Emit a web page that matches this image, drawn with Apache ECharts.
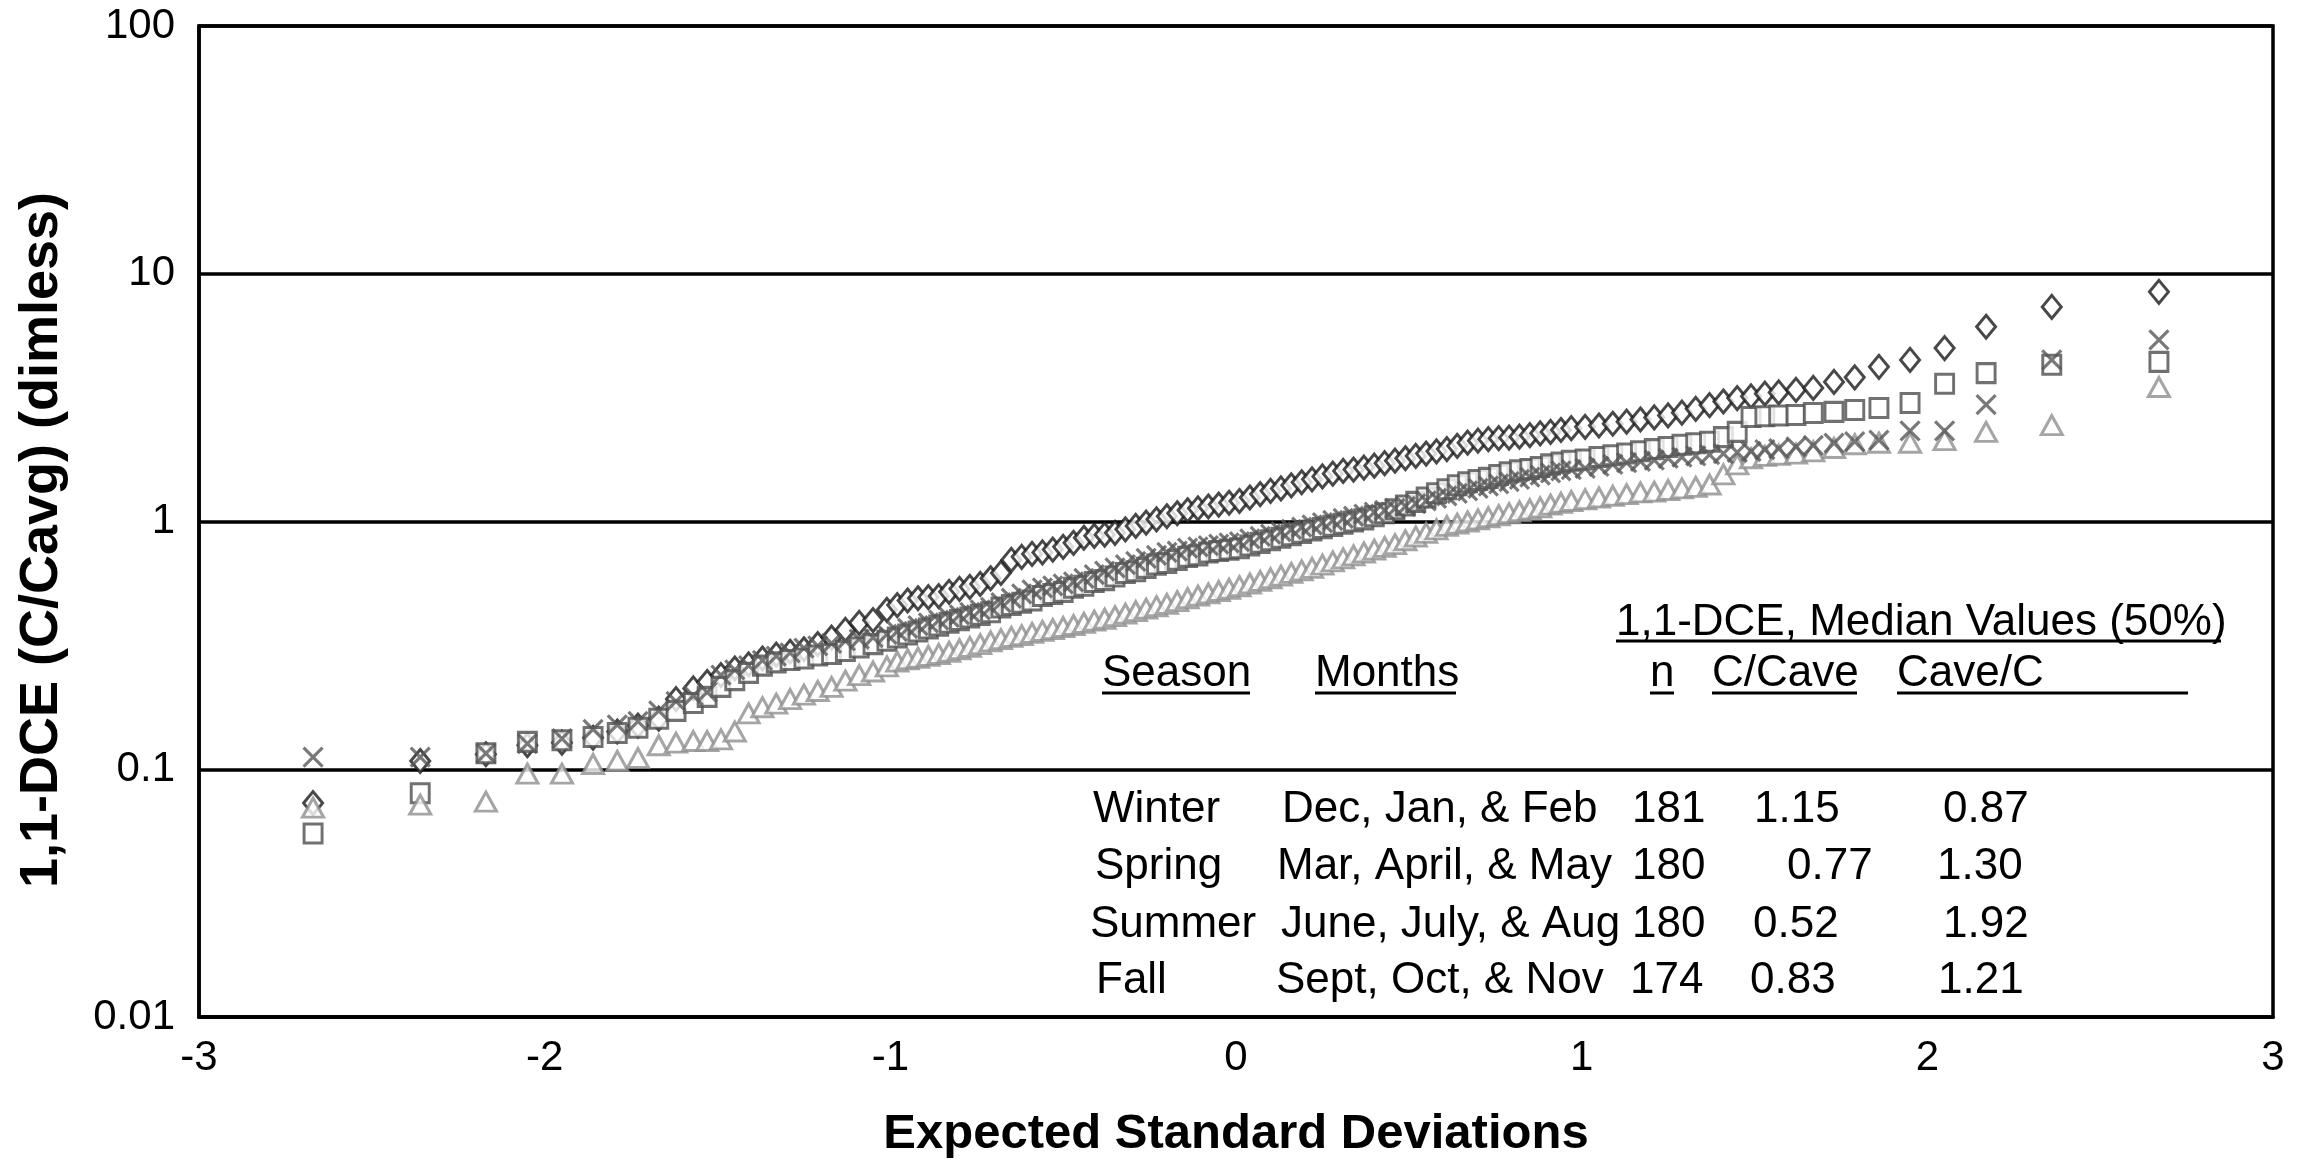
<!DOCTYPE html>
<html>
<head>
<meta charset="utf-8">
<script src="https://cdn.jsdelivr.net/npm/echarts@6/dist/echarts.min.js"></script>
<style>
html, body { margin: 0; padding: 0; background: #fff; }
#chart { width: 2310px; height: 1163px; }
</style>
</head>
<body>
<div id="chart"></div>
<script>
// Expected standard deviation (normal score) of each ranked sample
const zPositions = [
  -2.67, -2.36, -2.17, -2.05, -1.95, -1.86, -1.79, -1.73, -1.67, -1.62,
  -1.57, -1.53, -1.49, -1.45, -1.41, -1.37, -1.33, -1.29, -1.25, -1.21,
  -1.17, -1.13, -1.09, -1.05, -1.01, -0.98, -0.95, -0.92, -0.89, -0.86,
  -0.83, -0.80, -0.77, -0.74, -0.71, -0.68, -0.65, -0.62, -0.59, -0.56,
  -0.53, -0.50, -0.47, -0.44, -0.41, -0.38, -0.35, -0.32, -0.29, -0.26,
  -0.23, -0.20, -0.17, -0.14, -0.11, -0.08, -0.05, -0.02, 0.01, 0.04,
  0.07, 0.10, 0.13, 0.16, 0.19, 0.22, 0.25, 0.28, 0.31, 0.34,
  0.37, 0.40, 0.43, 0.46, 0.49, 0.52, 0.55, 0.58, 0.61, 0.64,
  0.67, 0.70, 0.73, 0.76, 0.79, 0.82, 0.85, 0.88, 0.91, 0.94,
  0.97, 1.01, 1.05, 1.09, 1.13, 1.17, 1.21, 1.25, 1.29, 1.33,
  1.37, 1.41, 1.45, 1.49, 1.53, 1.57, 1.62, 1.67, 1.73, 1.79,
  1.86, 1.95, 2.05, 2.17, 2.36, 2.67
];

// 1,1-DCE concentration relative to the average, one value per rank
const winterRatio = [
  0.073, 0.108, 0.115, 0.125, 0.128, 0.134, 0.142, 0.150, 0.160, 0.192,
  0.212, 0.225, 0.240, 0.255, 0.265, 0.280, 0.290, 0.298, 0.305, 0.320,
  0.340, 0.365, 0.390, 0.400, 0.440, 0.460, 0.480, 0.490, 0.495, 0.500,
  0.520, 0.535, 0.545, 0.560, 0.590, 0.620, 0.700, 0.720, 0.740, 0.750,
  0.770, 0.790, 0.820, 0.860, 0.875, 0.885, 0.900, 0.930, 0.960, 0.990,
  1.02, 1.05, 1.08, 1.11, 1.13, 1.15, 1.17, 1.19, 1.21, 1.25,
  1.29, 1.33, 1.36, 1.40, 1.44, 1.48, 1.52, 1.56, 1.60, 1.62,
  1.65, 1.68, 1.72, 1.76, 1.80, 1.84, 1.88, 1.92, 1.96, 2.02,
  2.08, 2.12, 2.15, 2.17, 2.18, 2.20, 2.23, 2.27, 2.30, 2.34,
  2.38, 2.41, 2.44, 2.48, 2.53, 2.58, 2.63, 2.68, 2.75, 2.85,
  2.95, 3.05, 3.15, 3.20, 3.28, 3.32, 3.40, 3.46, 3.66, 3.82,
  4.21, 4.49, 5.01, 6.11, 7.35, 8.45
];
const springRatio = [
  0.055, 0.080, 0.116, 0.129, 0.131, 0.135, 0.140, 0.147, 0.160, 0.172,
  0.185, 0.196, 0.215, 0.229, 0.245, 0.262, 0.270, 0.276, 0.280, 0.288,
  0.292, 0.300, 0.310, 0.320, 0.330, 0.34, 0.35, 0.36, 0.37, 0.38,
  0.39, 0.40, 0.41, 0.42, 0.43, 0.45, 0.46, 0.47, 0.48, 0.50,
  0.51, 0.52, 0.54, 0.55, 0.57, 0.58, 0.60, 0.62, 0.63, 0.65,
  0.67, 0.68, 0.70, 0.72, 0.73, 0.75, 0.76, 0.77, 0.78, 0.80,
  0.82, 0.84, 0.86, 0.88, 0.90, 0.92, 0.94, 0.96, 0.98, 1.00,
  1.02, 1.05, 1.08, 1.12, 1.16, 1.20, 1.25, 1.30, 1.35, 1.40,
  1.44, 1.47, 1.50, 1.54, 1.58, 1.61, 1.63, 1.66, 1.70, 1.73,
  1.76, 1.78, 1.82, 1.85, 1.88, 1.92, 1.96, 2.00, 2.04, 2.07,
  2.10, 2.19, 2.30, 2.64, 2.66, 2.68, 2.69, 2.74, 2.77, 2.82,
  2.87, 3.01, 3.60, 3.97, 4.29, 4.41
];
const summerRatio = [
  0.070, 0.072, 0.074, 0.096, 0.096, 0.105, 0.108, 0.111, 0.125, 0.128,
  0.130, 0.130, 0.132, 0.142, 0.168, 0.178, 0.184, 0.192, 0.200, 0.207,
  0.215, 0.228, 0.240, 0.248, 0.260, 0.272, 0.278, 0.282, 0.287, 0.292,
  0.298, 0.305, 0.312, 0.320, 0.328, 0.335, 0.342, 0.348, 0.355, 0.362,
  0.368, 0.375, 0.382, 0.390, 0.398, 0.405, 0.415, 0.425, 0.435, 0.445,
  0.455, 0.465, 0.477, 0.490, 0.502, 0.513, 0.524, 0.535, 0.548, 0.562,
  0.576, 0.590, 0.605, 0.620, 0.635, 0.650, 0.67, 0.69, 0.71, 0.73,
  0.75, 0.77, 0.79, 0.81, 0.84, 0.87, 0.90, 0.93, 0.96, 0.98,
  1.00, 1.02, 1.04, 1.06, 1.08, 1.10, 1.12, 1.14, 1.17, 1.19,
  1.21, 1.23, 1.25, 1.27, 1.29, 1.31, 1.32, 1.34, 1.36, 1.38,
  1.41, 1.55, 1.70, 1.80, 1.84, 1.86, 1.88, 1.92, 1.98, 2.05,
  2.08, 2.08, 2.13, 2.30, 2.45, 3.49
];
const fallRatio = [
  0.112, 0.112, 0.116, 0.127, 0.133, 0.145, 0.151, 0.156, 0.172, 0.188,
  0.198, 0.205, 0.240, 0.252, 0.262, 0.275, 0.286, 0.295, 0.308, 0.315,
  0.322, 0.330, 0.335, 0.340, 0.350, 0.36, 0.37, 0.38, 0.39, 0.40,
  0.41, 0.42, 0.43, 0.44, 0.45, 0.47, 0.49, 0.51, 0.53, 0.54,
  0.55, 0.56, 0.57, 0.59, 0.61, 0.63, 0.65, 0.67, 0.69, 0.71,
  0.73, 0.75, 0.76, 0.78, 0.79, 0.80, 0.81, 0.82, 0.83, 0.85,
  0.87, 0.89, 0.91, 0.93, 0.95, 0.97, 0.99, 1.01, 1.03, 1.05,
  1.07, 1.09, 1.11, 1.13, 1.15, 1.18, 1.21, 1.24, 1.27, 1.30,
  1.33, 1.36, 1.39, 1.42, 1.45, 1.48, 1.51, 1.54, 1.57, 1.60,
  1.62, 1.64, 1.67, 1.70, 1.73, 1.75, 1.77, 1.80, 1.82, 1.84,
  1.86, 1.88, 1.90, 1.92, 1.95, 1.97, 2.00, 2.03, 2.07, 2.10,
  2.13, 2.32, 2.32, 2.96, 4.49, 5.41
];

// Tick labels
const xTickLabels = ['-3', '-2', '-1', '0', '1', '2', '3'];
const yTickLabels = ['0.01', '0.1', '1', '10', '100'];

// Axis titles
const xTitle = 'Expected Standard Deviations';
const yTitle = '1,1-DCE (C/Cavg) (dimless)';

// Median summary table
const tableTitle = '1,1-DCE, Median Values (50%)';
const tableHeaders = ['Season', 'Months', 'n', 'C/Cave', 'Cave/C'];
const seasonNames = ['Winter', 'Spring', 'Summer', 'Fall'];
const monthRanges = ['Dec, Jan, & Feb', 'Mar, April, & May', 'June, July, & Aug', 'Sept, Oct, & Nov'];
const sampleCounts = ['181', '180', '180', '174'];
const medianRatio = ['1.15', '0.77', '0.52', '0.83'];
const inverseRatio = ['0.87', '1.30', '1.92', '1.21'];

const FONT = '"Liberation Sans", Arial, Helvetica, sans-serif';

function pairs(values) {
  return zPositions.map((z, i) => [z, values[i]]);
}

function hollow(color, width) {
  return { color: '#ffffff', borderColor: color, borderWidth: width };
}

const chart = echarts.init(document.getElementById('chart'), null, { renderer: 'canvas' });

// Table layout
const rowY = [810, 867, 925, 981];
const colSeasonX = [1093, 1095, 1090, 1096];
const colMonthX = [1282, 1277, 1281, 1276];
const colNX = [1632, 1632, 1632, 1630];
const colRatioX = [1754, 1787, 1753, 1750];
const colInverseX = [1943, 1937, 1943, 1938];
const headerX = [1102, 1315, 1650, 1712, 1897];
const headerY = 674;

function txt(s, x, y) {
  return {
    type: 'text', x: x, y: y, silent: true,
    style: {
      text: s, fill: '#000', fontFamily: FONT, fontSize: 44,
      align: 'left', verticalAlign: 'middle'
    }
  };
}
function rule(x1, x2, y) {
  return {
    type: 'line', silent: true,
    shape: { x1: x1, y1: y, x2: x2, y2: y },
    style: { stroke: '#000', lineWidth: 3 }
  };
}

const graphics = [];
graphics.push(txt(tableTitle, 1616, 623));
graphics.push(rule(1616, 2221, 641));
tableHeaders.forEach((h, i) => graphics.push(txt(h, headerX[i], headerY)));
graphics.push(rule(1102, 1250, 693));
graphics.push(rule(1315, 1456, 693));
graphics.push(rule(1650, 1674, 693));
graphics.push(rule(1712, 1857, 693));
graphics.push(rule(1897, 2188, 693));
seasonNames.forEach((s, i) => {
  graphics.push(txt(s, colSeasonX[i], rowY[i]));
  graphics.push(txt(monthRanges[i], colMonthX[i], rowY[i]));
  graphics.push(txt(sampleCounts[i], colNX[i], rowY[i]));
  graphics.push(txt(medianRatio[i], colRatioX[i], rowY[i]));
  graphics.push(txt(inverseRatio[i], colInverseX[i], rowY[i]));
});
// Axis titles
graphics.push({
  type: 'text', x: 1236, y: 1134, silent: true,
  style: { text: xTitle, fill: '#000', fontFamily: FONT, fontSize: 49, fontWeight: 'bold', align: 'center', verticalAlign: 'middle' }
});
graphics.push({
  type: 'text', x: 42, y: 540, rotation: Math.PI / 2, silent: true,
  style: { text: yTitle, fill: '#000', fontFamily: FONT, fontSize: 54, fontWeight: 'bold', align: 'center', verticalAlign: 'middle' }
});

const xMark = 'path://M2,2L18,18M18,2L2,18';

chart.setOption({
  animation: false,
  backgroundColor: '#ffffff',
  grid: {
    left: 199, top: 26, width: 2074, height: 991,
    show: true, borderColor: '#000', borderWidth: 3.5, backgroundColor: 'transparent'
  },
  xAxis: {
    type: 'value', min: -3, max: 3, interval: 1,
    axisLine: { show: true, onZero: false, lineStyle: { color: '#000', width: 3.5 } },
    axisTick: { show: false },
    splitLine: { show: false },
    axisLabel: {
      margin: 20, color: '#000', fontFamily: FONT, fontSize: 42,
      formatter: v => xTickLabels[Math.round(v) + 3]
    }
  },
  yAxis: {
    type: 'log', logBase: 10, min: 0.01, max: 100,
    axisLine: { show: true, onZero: false, lineStyle: { color: '#000', width: 3.5 } },
    axisTick: { show: false },
    splitLine: { show: true, lineStyle: { color: '#000', width: 3.5 } },
    axisLabel: {
      margin: 24, color: '#000', fontFamily: FONT, fontSize: 42,
      formatter: v => yTickLabels[Math.round(Math.log10(v)) + 2]
    }
  },
  series: [
    {
      name: 'Winter', type: 'scatter', data: pairs(winterRatio),
      symbol: 'diamond', symbolSize: [19, 23],
      itemStyle: hollow('#1a1a1a', 3), z: 3
    },
    {
      name: 'Spring', type: 'scatter', data: pairs(springRatio),
      symbol: 'rect', symbolSize: [18, 19],
      itemStyle: hollow('#4e4e4e', 3), z: 3
    },
    {
      name: 'Summer', type: 'scatter', data: pairs(summerRatio),
      symbol: 'triangle', symbolSize: [21, 19],
      itemStyle: hollow('#8e8e8e', 3), z: 3
    },
    {
      name: 'Fall', type: 'scatter', data: pairs(fallRatio),
      symbol: xMark, symbolSize: 19,
      itemStyle: { color: 'none', borderColor: '#585858', borderWidth: 3.2 }, z: 3
    }
  ],
  graphic: graphics
});
</script>
</body>
</html>
